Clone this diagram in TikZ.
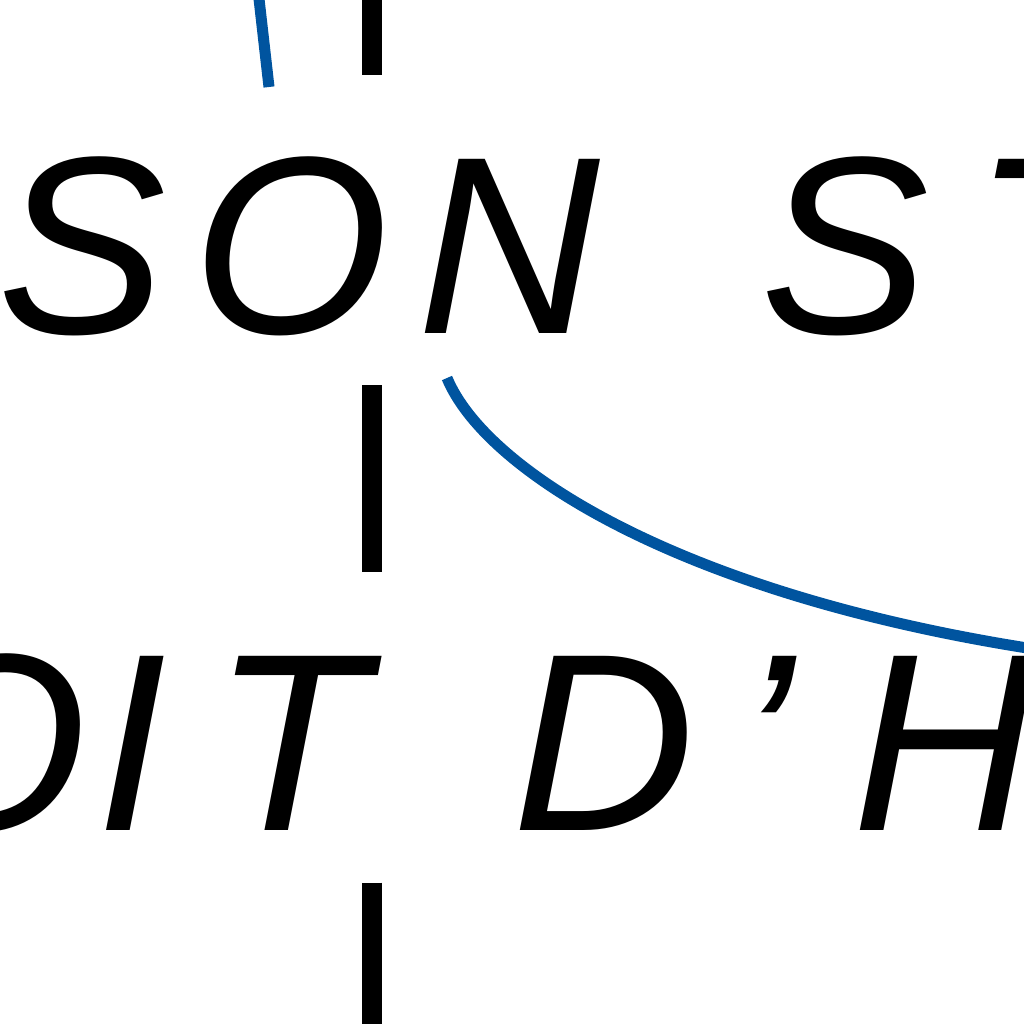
\documentclass[tikz,border=0pt]{standalone}
\usepackage{fontspec}
\setmainfont{Liberation Sans}
\definecolor{myblue}{RGB}{0,84,159}
\begin{document}
\begin{tikzpicture}[x=0.01cm,y=-0.01cm,
  lt/.style={anchor=base west, inner sep=0pt, outer sep=0pt, font=\fontsize{72}{80}\selectfont\itshape},
  blueline/.style={draw=myblue, line width=0.11cm},
  axisline/.style={draw=black, line width=0.2cm, dash pattern=on 1.87cm off 3.1cm}]
\useasboundingbox (0,0) rectangle (1024,1024);
\clip (0,0) rectangle (1024,1024);
% dashed axis
\coordinate (axtop) at (372,-112);
\coordinate (axbot) at (372,1100);
\draw[axisline] (axtop) -- (axbot);
% top row
\node[lt] (t1) at (-2,333) {S};
\node[lt] (t2) at (192,333) {O};
\node[lt] (t3) at (417,333) {N};
\node[lt] (t4) at (760,333) {S};
\node[lt] (t5) at (972,333) {T};
% bottom row
\node[lt] (b1) at (-110,830) {O};
\node[lt] (b2) at (97,830) {I};
\node[lt] (b3) at (212,830) {T};
\node[lt] (b4) at (512,830) {D};
\node[lt] (b5) at (737,830) {’};
\node[lt] (b6) at (852,830) {H};
% blue connectors
\coordinate (u1) at (258,-10);
\coordinate (u2) at (269,87);
\draw[blueline] (u1) -- (u2);
\coordinate (c1) at (447,378);
\coordinate (c2) at (1040,650);
\draw[blueline] (c1) .. controls (485,470) and (680,595) .. (c2);
\end{tikzpicture}
\end{document}
